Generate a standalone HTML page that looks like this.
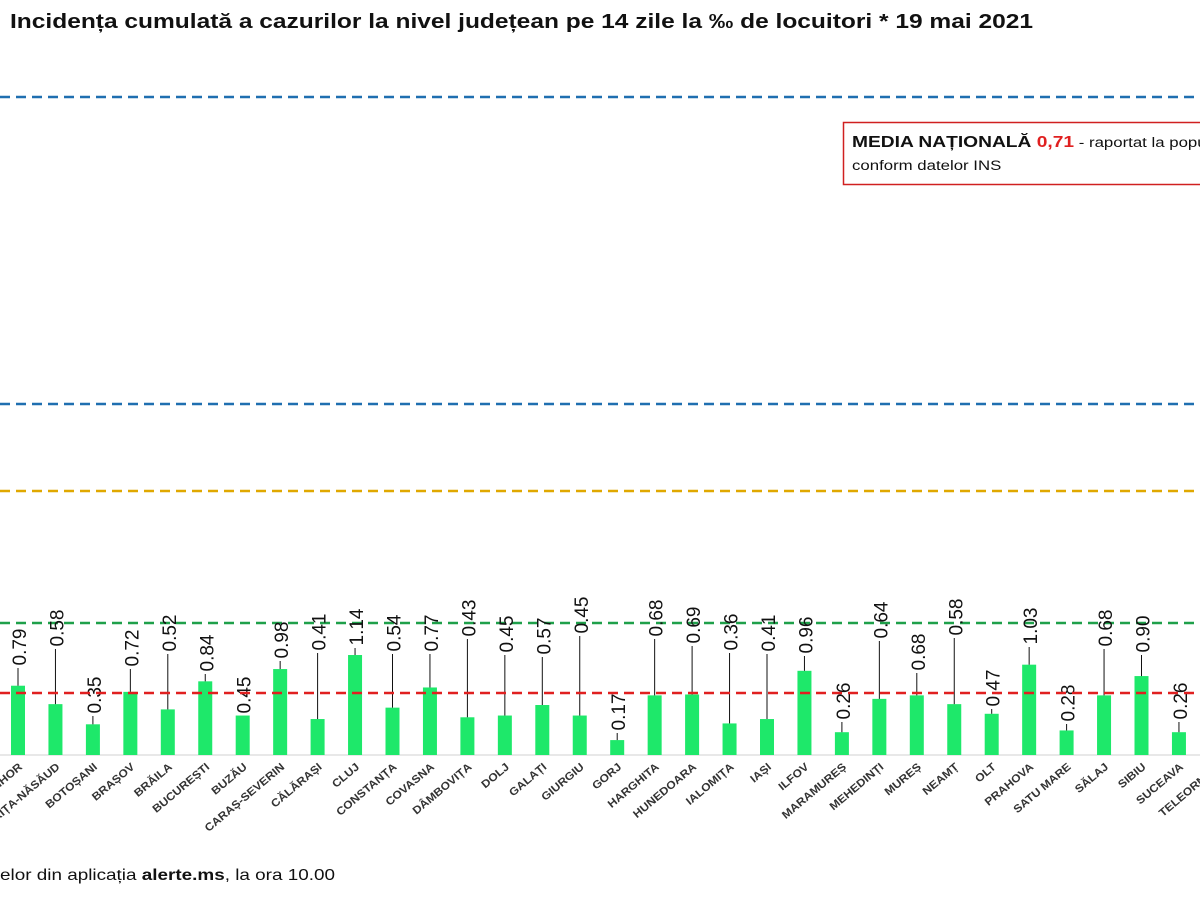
<!DOCTYPE html>
<html><head><meta charset="utf-8"><style>
body{margin:0;background:#fff;width:1200px;height:900px;overflow:hidden;font-family:"Liberation Sans",sans-serif}
</style></head><body>
<svg id="s" width="1200" height="900" xmlns="http://www.w3.org/2000/svg" font-family="Liberation Sans, sans-serif">
<text x="10" y="28" font-size="20" font-weight="bold" fill="#111" textLength="1023" lengthAdjust="spacingAndGlyphs">Incidența cumulată a cazurilor la nivel județean pe 14 zile la ‰ de locuitori *  19 mai 2021</text>
<g stroke-width="2.5" stroke-dasharray="10,6" fill="none">
<line x1="0" y1="97" x2="1200" y2="97" stroke="#1f6fb0"/>
<line x1="0" y1="404" x2="1200" y2="404" stroke="#1f6fb0"/>
<line x1="0" y1="491" x2="1200" y2="491" stroke="#e0a800"/>
<line x1="0" y1="623" x2="1200" y2="623" stroke="#1fa04a"/>
</g>
<line x1="0" y1="755" x2="1200" y2="755" stroke="#d0d0d0" stroke-width="1"/>
<rect x="843.5" y="122.5" width="370" height="62" fill="#fff" stroke="#d02020" stroke-width="1.5"/>
<g transform="translate(852,0) scale(1.2,1)">
<text x="0" y="147" font-size="16" fill="#111"><tspan font-weight="bold">MEDIA NAȚIONALĂ </tspan><tspan font-weight="bold" fill="#e02020">0,71</tspan><tspan font-size="14"> - raportat la populația</tspan></text>
<text x="0" y="170" font-size="14" fill="#111">conform datelor INS</text>
</g>
<g id="bars"></g>
<line x1="0" y1="693" x2="1200" y2="693" stroke="#e02020" stroke-width="2.5" stroke-dasharray="10,6"/>
<text x="0" y="880" font-size="16" fill="#111" textLength="335" lengthAdjust="spacingAndGlyphs">elor din aplicația <tspan font-weight="bold">alerte.ms</tspan>, la ora 10.00</text>
</svg>
<script>
var d=[["BIHOR",.79,647],["BISTRIȚA-NĂSĂUD",.58,628],["BOTOȘANI",.35,695],["BRAȘOV",.72,648],["BRĂILA",.52,633],["BUCUREȘTI",.84,653],["BUZĂU",.45,695],["CARAȘ-SEVERIN",.98,640],["CĂLĂRAȘI",.41,632],["CLUJ",1.14,627],["CONSTANȚA",.54,633],["COVASNA",.77,633],["DÂMBOVIȚA",.43,618],["DOLJ",.45,634],["GALAȚI",.57,636],["GIURGIU",.45,615],["GORJ",.17,712],["HARGHITA",.68,618],["HUNEDOARA",.69,625],["IALOMIȚA",.36,632],["IAȘI",.41,633],["ILFOV",.96,635],["MARAMUREȘ",.26,701],["MEHEDINȚI",.64,620],["MUREȘ",.68,652],["NEAMȚ",.58,617],["OLT",.47,688],["PRAHOVA",1.03,626],["SATU MARE",.28,703],["SĂLAJ",.68,628],["SIBIU",.90,634],["SUCEAVA",.26,701],["TELEORMAN",.5,640]];
var h="";
d.forEach(function(r,i){var cx=18+i*37.45,top=755-r[1]*87.7;
h+='<rect x="'+(cx-7)+'" y="'+top+'" width="14" height="'+(755-top)+'" fill="#1ee86a"/>';
var lb=r[2]+21; if(top-lb>4) h+='<line x1="'+cx+'" y1="'+lb+'" x2="'+cx+'" y2="'+top+'" stroke="#111" stroke-width="1"/>';
h+='<text transform="translate('+(cx+8)+','+r[2]+') rotate(-90)" text-anchor="middle" font-size="19" fill="#111">'+r[1].toFixed(2)+'</text>';
h+='<text transform="translate('+(cx+5)+',768) rotate(-40) scale(1.1,1)" text-anchor="end" font-size="11" font-weight="bold" fill="#333">'+r[0]+'</text>';});
document.getElementById("bars").innerHTML=h;
</script>
</body></html>
